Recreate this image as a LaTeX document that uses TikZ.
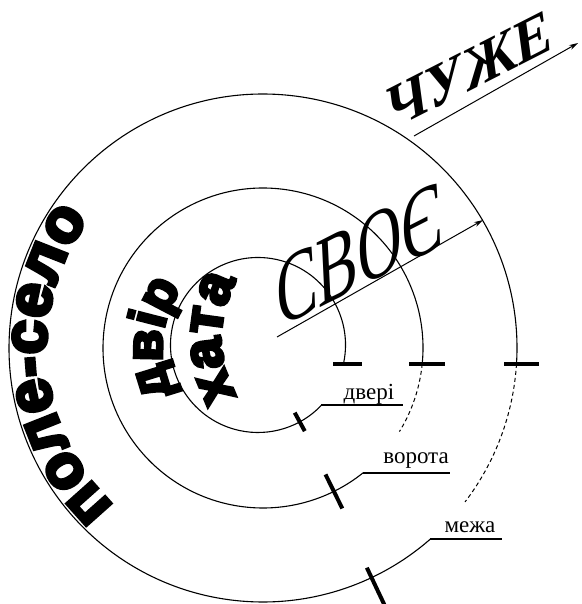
\documentclass[tikz,border=0pt]{standalone}
\usepackage{fontspec}
\setmainfont{Liberation Serif}
\newfontfamily\heavyfont{Liberation Sans}[FakeBold=6, BoldFeatures={FakeBold=6}]
\usetikzlibrary{arrows.meta,decorations.text}
\begin{document}
\begin{tikzpicture}[x=1pt,y=-1pt,
  ring/.style={line width=1.1pt},
  ringdash/.style={line width=1pt, dash pattern=on 4pt off 3pt},
  gate/.style={line width=4pt},
  uline/.style={line width=2.2pt},
  ray/.style={line width=1pt, -{Stealth[length=9pt,width=5pt]}},
  small/.style={font=\fontsize{23}{23}\selectfont, inner sep=0pt},
]
\useasboundingbox (0,0) rectangle (581,604);

% inner ring (хата)
\draw[ring] ([shift={(258,345)}]12:87.5) arc[start angle=12, end angle=-316.4, radius=87.5];
\coordinate (dvL) at ([shift={(258,345)}]43.6:87.5);
\draw[uline] (dvL) -- ++(82,0);
\draw[gate] (333,364) -- (362,364);
\draw[gate] ([shift={(258,345)}]61.5:77) -- ([shift={(258,345)}]61.5:98);

% middle ring (двір)
\draw[ring] ([shift={(263,348)}]5.7:160) arc[start angle=5.7, end angle=-308.7, radius=160];
\draw[ringdash] ([shift={(263,348)}]5.7:160) arc[start angle=5.7, end angle=31.5, radius=160];
\coordinate (vrL) at ([shift={(263,348)}]51.3:160);
\draw[uline] (vrL) -- ++(87,0);
\draw[gate] (409,364) -- (445,364);
\draw[gate] ([shift={(263,348)}]63.7:141) -- ([shift={(263,348)}]63.7:179);

% outer ring (поле-село)
\draw[ring] ([shift={(263,348)}]3.6:254) arc[start angle=3.6, end angle=-311.2, radius=254];
\draw[ringdash] ([shift={(263,348)}]3.6:254) arc[start angle=3.6, end angle=37.3, radius=254];
\coordinate (mzL) at ([shift={(263,348)}]48.8:254);
\draw[uline] (mzL) -- ++(72,0);
\draw[gate] (504,364) -- (539,364);
\draw[gate] ([shift={(263,348)}]64.7:243) -- ([shift={(263,348)}]64.7:284);

% labels on the gates
\node[small, anchor=base] (ldv) at (369,399) {двері};
\node[small, anchor=base] (lvr) at (416,463) {ворота};
\node[small, anchor=base] (lmz) at (470,532) {межа};

% curved zone names
\path[decorate, decoration={text along path, text align=center,
  text={|\heavyfont\bfseries\fontsize{62}{62}\selectfont|поле-село}}]
  ([shift={(263,348)}]110:217) arc[start angle=110, end angle=240, radius=217];
\path[decorate, decoration={text along path, text align=center,
  text={|\heavyfont\bfseries\fontsize{52}{52}\selectfont|двір}}]
  ([shift={(263,348)}]126:101) arc[start angle=126, end angle=244, radius=101];
\path[decorate, decoration={text along path, text align=center,
  text={|\heavyfont\bfseries\fontsize{56}{56}\selectfont|хата}}]
  ([shift={(335,338)}]120:114) arc[start angle=120, end angle=240, radius=114];

% СВОЄ and its arrow
\node[anchor=base west, rotate=27, xslant=0.45, xscale=0.76, inner sep=0pt, font=\fontsize{90}{90}\selectfont] (svoe) at (278,329) {СВОЄ};
\coordinate (s0) at (277,337);
\coordinate (s1) at (483,220);
\draw[ray] (s0) -- (s1);

% ЧУЖЕ and its arrow
\node[anchor=base west, rotate=27, xslant=0.35, inner sep=0pt, font=\bfseries\fontsize{58}{58}\selectfont] (chuzhe) at (391,131) {ЧУЖЕ};
\coordinate (c0) at (414,136);
\coordinate (c1) at (578,43);
\draw[ray] (c0) -- (c1);
\end{tikzpicture}
\end{document}
